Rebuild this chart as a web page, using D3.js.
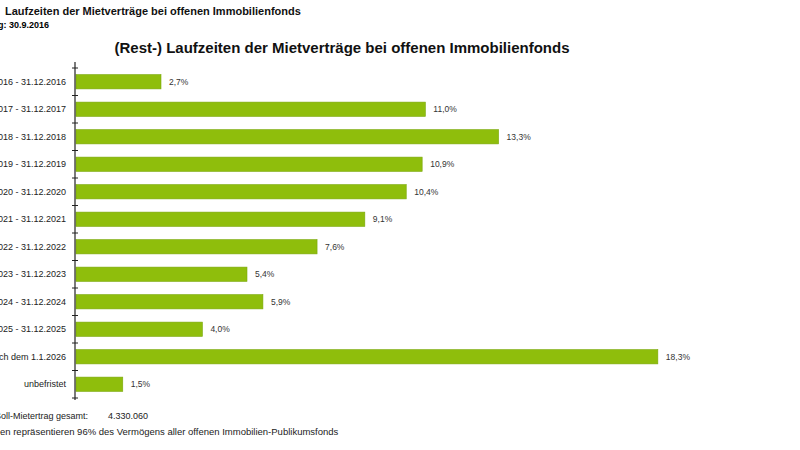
<!DOCTYPE html>
<html>
<head>
<meta charset="utf-8">
<script src="https://cdn.jsdelivr.net/npm/d3@7/dist/d3.min.js"></script>
<style>
body { margin: 0; background: #fff; }
svg { display: block; font-family: "Liberation Sans", Arial, sans-serif; }
.catLabel { font-size: 9px; fill: #222; }
.dataLabels { font-size: 8.5px; fill: #333; }
</style>
</head>
<body>
<svg></svg>
<script>
// Kategorien und Werte
var categories = [
    "1.10.2016 - 31.12.2016", "1.1.2017 - 31.12.2017", "1.1.2018 - 31.12.2018",
    "1.1.2019 - 31.12.2019", "1.1.2020 - 31.12.2020", "1.1.2021 - 31.12.2021",
    "1.1.2022 - 31.12.2022", "1.1.2023 - 31.12.2023", "1.1.2024 - 31.12.2024",
    "1.1.2025 - 31.12.2025", "nach dem 1.1.2026", "unbefristet"
];
var values = [2.7, 11.0, 13.3, 10.9, 10.4, 9.1, 7.6, 5.4, 5.9, 4.0, 18.3, 1.5];
var valueLabels = ["2,7%", "11,0%", "13,3%", "10,9%", "10,4%", "9,1%", "7,6%", "5,4%", "5,9%", "4,0%", "18,3%", "1,5%"];

var svgWidth = 800, svgHeight = 450;
var axisX = 75, plotTop = 68, plotBottom = 398;

var svg = d3.select('svg')
    .attr("width", svgWidth)
    .attr("height", svgHeight);

// Skalen
var x = d3.scaleLinear().domain([0, 20]).range([axisX, 712]);
var y = d3.scaleBand().domain(categories).range([plotTop, plotBottom]).paddingInner(0.48).paddingOuter(0.24);
var step = y.step();

// Überschriften
svg.append("text").attr("x", 0).attr("y", 15)
    .attr("text-anchor", "end").style("font-size", "11px").style("font-weight", "bold")
    .text("(Rest-)");
svg.append("text").attr("x", 5).attr("y", 15)
    .style("font-size", "11px").style("font-weight", "bold").attr("fill", "#111")
    .text("Laufzeiten der Mietverträge bei offenen Immobilienfonds");
svg.append("text").attr("x", 49).attr("y", 28)
    .attr("text-anchor", "end").style("font-size", "9px").style("font-weight", "bold")
    .text("Stichtag: 30.9.2016");
svg.append("text").attr("x", 342).attr("y", 53)
    .attr("text-anchor", "middle").style("font-size", "15px").style("font-weight", "bold").attr("fill", "#111")
    .text("(Rest-) Laufzeiten der Mietverträge bei offenen Immobilienfonds");

// Balken
svg.selectAll("rect.bar")
    .data(values)
    .enter()
    .append("rect")
    .attr("class", "bar")
    .attr("x", x(0) + 1)
    .attr("y", function(d, i) { return y(categories[i]); })
    .attr("width", function(d) { return x(d) - x(0) - 1; })
    .attr("height", y.bandwidth())
    .attr("fill", "#8fbe0c")
    .attr("stroke", "#7aa80a")
    .attr("stroke-width", 0.6);

// Datenbeschriftung
svg.selectAll("text.dataLabels")
    .data(values)
    .enter()
    .append("text")
    .attr("class", "dataLabels")
    .attr("x", function(d) { return x(d) + 8; })
    .attr("y", function(d, i) { return y(categories[i]) + y.bandwidth() / 2 + 3; })
    .text(function(d, i) { return valueLabels[i]; });

// Kategorieachse
svg.selectAll("text.catLabel")
    .data(categories)
    .enter()
    .append("text")
    .attr("class", "catLabel")
    .attr("x", 66)
    .attr("y", function(d) { return y(d) + y.bandwidth() / 2 + 3; })
    .attr("text-anchor", "end")
    .text(function(d) { return d; });

svg.append("line")
    .attr("x1", axisX).attr("x2", axisX)
    .attr("y1", plotTop - 6).attr("y2", plotBottom + 2)
    .attr("stroke", "#222").attr("stroke-width", 1.2);

var tickYs = categories.map(function(d) { return y(d) - (step - y.bandwidth()) / 2; });
tickYs.push(plotBottom);
svg.selectAll("line.tick")
    .data(tickYs)
    .enter()
    .append("line")
    .attr("class", "tick")
    .attr("x1", axisX - 3).attr("x2", axisX + 3)
    .attr("y1", function(d) { return d; }).attr("y2", function(d) { return d; })
    .attr("stroke", "#222").attr("stroke-width", 1);

// Fußnoten
svg.append("text").attr("x", 88).attr("y", 419)
    .attr("text-anchor", "end").style("font-size", "9px").attr("fill", "#222")
    .text("Jahres-Soll-Mietertrag gesamt:");
svg.append("text").attr("x", 108).attr("y", 419)
    .style("font-size", "9px").attr("fill", "#222")
    .text("4.330.060");
svg.append("text").attr("x", 0).attr("y", 435)
    .style("font-size", "9.5px").attr("fill", "#222")
    .text("en repräsentieren 96% des Vermögens aller offenen Immobilien-Publikumsfonds");
</script>
</body>
</html>
